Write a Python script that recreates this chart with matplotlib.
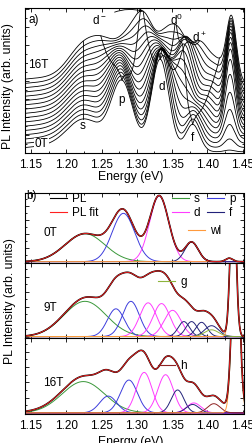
import numpy as np
import matplotlib.pyplot as plt

plt.rcParams['font.family'] = ['Liberation Sans', 'DejaVu Sans']
plt.rcParams['font.size'] = 8.5
plt.rcParams['mathtext.default'] = 'regular'

# ---------------- panel a) data: PL spectra 0T..16T ----------------
fields = [0, 1, 2, 3, 4, 5, 6, 7, 8, 9, 10, 11, 12, 13, 14, 15, 16]
# Gaussian lines of each spectrum at 0T and 16T (offset units = 1 per tesla)
branch = ['bg', 's', 'p-', 'p+', 'd-', 'd0', 'd+', 'f-', 'f+']
br_E0 = [1.180, 1.226, 1.279, 1.279, 1.333, 1.333, 1.333, 1.379, 1.379]
br_E16 = [1.180, 1.226, 1.256, 1.288, 1.311, 1.343, 1.389, 1.362, 1.415]
br_A0 = [1.3, 6.8, 8.0, 8.0, 7.2, 7.2, 7.2, 3.2, 3.2]
br_A16 = [1.3, 8.0, 6.0, 9.0, 12.5, 11.0, 9.3, 7.0, 4.3]
br_W0 = [0.05, 0.024, 0.0155, 0.0155, 0.0125, 0.0125, 0.0125, 0.010, 0.010]
br_W16 = [0.05, 0.022, 0.017, 0.016, 0.0135, 0.014, 0.013, 0.011, 0.011]
# wetting layer line, amplitude per field
wl_amp = [0.4, 2.0, 4.4, 6.9, 9.9, 13.1, 15.6, 17.0, 17.5, 17.7, 17.8, 17.5,
          17.2, 16.7, 16.2, 15.5, 14.9]
wl_E0, wl_E16, wl_W = 1.431, 1.434, 0.007
# guide lines following the peaks (energy at 0T and 16T)
guide_E0 = [1.224, 1.279, 1.279, 1.333, 1.333, 1.333, 1.379, 1.379]
guide_E16 = [1.224, 1.249, 1.305, 1.309, 1.354, 1.389, 1.356, 1.417]

# ---------------- panel b) data: fitted lines at 0T, 9T, 16T ----------------
b_fields = ['0T', '9T', '16T']
fit_kind = [
    ['s', 'p', 'd', 'f', 'wl'],
    ['s', 'p', 'p', 'd', 'd', 'd', 'f', 'f', 'f', 'f', 'g', 'wl'],
    ['s', 'p', 'p', 'd', 'd', 'f', 'd', 'f', 'h', 'wl'],
]
fit_E = [
    [1.2266, 1.281, 1.3317, 1.3775, 1.4307],
    [1.2266, 1.2704, 1.2916, 1.316, 1.335, 1.3506, 1.3666, 1.3775, 1.3916,
     1.4058, 1.4058, 1.4363],
    [1.2242, 1.2595, 1.2888, 1.3104, 1.3407, 1.3577, 1.3807, 1.379, 1.409, 1.44],
]
fit_A = [
    [0.40, 0.69, 0.94, 0.28, 0.05],
    [0.47, 0.37, 0.47, 0.45, 0.44, 0.35, 0.20, 0.20, 0.19, 0.145, 0.09, 2.0],
    [0.41, 0.22, 0.43, 0.53, 0.50, 0.30, 0.13, 0.11, 0.12, 2.5],
]
fit_W = [
    [0.028, 0.016, 0.0135, 0.0095, 0.005],
    [0.03, 0.012, 0.012, 0.012, 0.012, 0.012, 0.008, 0.008, 0.008, 0.010,
     0.010, 0.004],
    [0.03, 0.012, 0.012, 0.011, 0.011, 0.009, 0.010, 0.009, 0.009, 0.005],
]
# broad background included in the fit sum
bg_E = [1.30, 1.30, 1.33]
bg_A = [0.0, 0.2, 0.17]
bg_W = [0.045, 0.045, 0.08]

colors = {'s': '#3a983a', 'p': '#3c3cdc', 'd': '#ff3cff', 'f': '#22227a',
          'wl': '#ff9a3c', 'g': '#8db43c', 'h': '#8e2222'}


def gauss(x, e0, a, w):
    return a * np.exp(-0.5 * ((x - e0) / w) ** 2)


def spectrum_a(x, B):
    t = B / 16.0
    y = np.zeros_like(np.asarray(x, dtype=float))
    for i in range(len(branch)):
        e = br_E0[i] + (br_E16[i] - br_E0[i]) * t
        a = br_A0[i] + (br_A16[i] - br_A0[i]) * t
        w = br_W0[i] + (br_W16[i] - br_W0[i]) * t
        y = y + gauss(x, e, a, w)
    y = y + gauss(x, wl_E0 + (wl_E16 - wl_E0) * t, wl_amp[B], wl_W)
    return y


E = np.linspace(1.13, 1.46, 900)
W, H = 252.0, 443.0
L, R = 24.5 / W, 219.0 / W

fig = plt.figure(figsize=(2.52, 4.43), dpi=100)

# ---------------- panel a ----------------
ax = fig.add_axes([L, 1 - 153.3 / H, R, 145.3 / H])
for B in fields:
    ax.plot(E, B + spectrum_a(E, B), color='k', lw=0.6)
for g0, g16 in zip(guide_E0, guide_E16):
    ge = [g0 + (g16 - g0) * B / 16.0 for B in fields]
    gy = [B + spectrum_a(np.array([e]), B)[0] for B, e in zip(fields, ge)]
    ax.plot(ge, gy, color='k', lw=0.6)

ax.set_xlim(1.141, 1.451)
ax.set_ylim(-0.2, 33.6)
ax.set_xticks(np.arange(1.15, 1.451, 0.05))
ax.set_xticks(np.arange(1.15, 1.451, 0.025), minor=True)
ax.set_yticks(np.arange(-0.35, 33.6, 4.2))
ax.set_yticks(np.arange(1.75, 33.6, 4.2), minor=True)
ax.tick_params(which='both', direction='in', top=True, right=True,
               labelleft=False, width=0.6, pad=4)
ax.tick_params(which='major', length=3)
ax.tick_params(which='minor', length=1.5)
for s in ax.spines.values():
    s.set_linewidth(0.8)

ax.text(1.146, 30.9, 'a)', ha='left', va='center')
ax.text(1.146, 20.3, '16T', ha='left', va='center',
        bbox=dict(fc='white', ec='none', pad=0.3))
ax.text(1.155, 1.75, '0T', ha='left', va='center',
        bbox=dict(fc='white', ec='none', pad=0.3))
ax.text(1.2235, 6.0, 's', ha='center', va='center')
ax.text(1.278, 12.2, 'p', ha='center', va='center')
ax.text(1.335, 15.2, 'd', ha='center', va='center')
ax.text(1.379, 3.3, 'f', ha='center', va='center')
ax.text(1.356, 30.8, 'd$^0$', ha='center', va='center')
ax.text(1.389, 26.5, 'd$^+$', ha='center', va='center')
tip_e = guide_E16[3]
ax.annotate('d$^-$', xy=(tip_e, 16 + spectrum_a(np.array([tip_e]), 16)[0]),
            xytext=(1.247, 30.6), ha='center', va='center',
            arrowprops=dict(arrowstyle='-|>', lw=0.6, color='k',
                            mutation_scale=5,
                            connectionstyle='arc3,rad=-0.25',
                            shrinkA=4, shrinkB=0))

# ---------------- panel b ----------------
tops = [192.7, 262.7, 337.7]
bots = [262.7, 337.7, 414.0]
label_y = [0.42, 0.39, 0.41]
axes_b = []
for k in range(3):
    bx = fig.add_axes([L, 1 - bots[k] / H, R, (bots[k] - tops[k]) / H])
    axes_b.append(bx)
    kinds = fit_kind[k]
    order = [i for i in range(len(kinds)) if kinds[i] != 'wl'] + \
            [i for i in range(len(kinds)) if kinds[i] == 'wl']
    total = gauss(E, bg_E[k], bg_A[k], bg_W[k])
    for i in range(len(kinds)):
        total = total + gauss(E, fit_E[k][i], fit_A[k][i], fit_W[k][i])
    for i in order:
        bx.plot(E, gauss(E, fit_E[k][i], fit_A[k][i], fit_W[k][i]),
                color=colors[kinds[i]], lw=0.7)
    bx.plot(E, total, color='k', lw=1.2)
    bx.plot(E, total, color='#ff2020', lw=0.6)
    bx.set_xlim(1.141, 1.451)
    bx.set_ylim(-0.015, 0.985)
    bx.set_xticks(np.arange(1.15, 1.451, 0.05))
    bx.set_xticks(np.arange(1.15, 1.451, 0.025), minor=True)
    bx.set_yticks([0, 0.2, 0.4, 0.6, 0.8])
    bx.set_yticks([0.1, 0.3, 0.5, 0.7, 0.9], minor=True)
    bx.tick_params(which='both', direction='in', top=True, right=True,
                   labelleft=False, width=0.6, pad=4,
                   labelbottom=(k == 2))
    bx.tick_params(which='major', length=3)
    bx.tick_params(which='minor', length=1.5)
    for s in bx.spines.values():
        s.set_linewidth(0.8)
    bx.text(0.086, label_y[k], b_fields[k], transform=bx.transAxes,
            ha='left', va='center')

leg_kw = dict(frameon=False, handlelength=1.45, handletextpad=0.4,
              labelspacing=0.2, borderpad=0, borderaxespad=0, loc='upper left')
b0 = axes_b[0]
b0.text(0.007, 0.953, 'b)', transform=b0.transAxes, ha='left', va='center')
h1 = [plt.Line2D([], [], color='k', lw=0.8), plt.Line2D([], [], color='#ff2020', lw=0.8)]
l1 = b0.legend(h1, ['PL', 'PL fit'], bbox_to_anchor=(0.118, 1.0), **leg_kw)
b0.add_artist(l1)
h2 = [plt.Line2D([], [], color=colors[c], lw=0.8) for c in ['s', 'd', 'p', 'f']]
l2 = b0.legend(h2, ['s', 'd', 'p', 'f'], ncol=2, columnspacing=0.6,
               bbox_to_anchor=(0.672, 1.0), **leg_kw)
b0.add_artist(l2)
b0.legend([plt.Line2D([], [], color=colors['wl'], lw=0.8)], ['wl'],
          bbox_to_anchor=(0.747, 0.543), **leg_kw)
axes_b[1].legend([plt.Line2D([], [], color=colors['g'], lw=0.8)], ['g'],
                 bbox_to_anchor=(0.611, 0.827), **leg_kw)
axes_b[2].legend([plt.Line2D([], [], color=colors['h'], lw=0.8)], ['h'],
                 bbox_to_anchor=(0.611, 0.712), **leg_kw)

fig.text(131 / W, 1 - 177 / H, 'Energy (eV)', ha='center', va='center', fontsize=8.8)
fig.text(131 / W, 1 - 441.5 / H, 'Energy (eV)', ha='center', va='center', fontsize=8.8)
fig.text(8.5 / W, 1 - 86 / H, 'PL Intensity (arb. units)', rotation=90,
         ha='center', va='center', fontsize=8.8)
fig.text(10 / W, 1 - 301.5 / H, 'PL Intensity (arb. units)', rotation=90,
         ha='center', va='center', fontsize=8.8)

fig.savefig('out.png', dpi=100)
